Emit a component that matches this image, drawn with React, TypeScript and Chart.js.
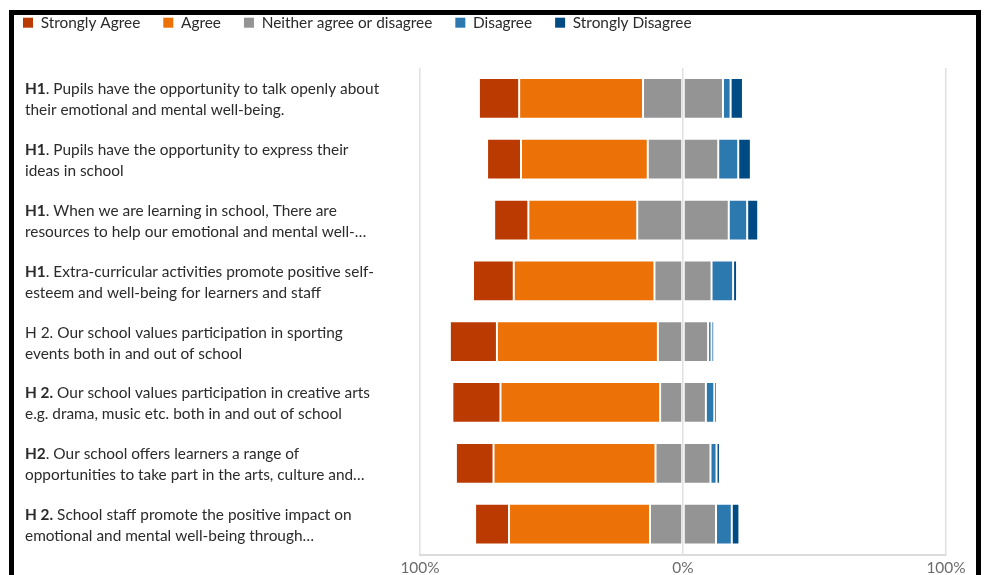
import React, { useEffect, useRef } from "react";
import { Chart, registerables } from "chart.js";

Chart.register(...registerables);

// ---- Data ----
const labelBold = ["H1", "H1", "H1", "H1", "", "H 2.", "H2", "H 2."];
const labelLine1 = [
  ". Pupils have the opportunity to talk openly about",
  ". Pupils have the opportunity to express their",
  ". When we are learning in school, There are",
  ". Extra-curricular activities promote positive self-",
  "H 2. Our school values participation in sporting",
  " Our school values participation in creative arts",
  ". Our school offers learners a range of",
  " School staff promote the positive impact on",
];
const labelLine2 = [
  "their emotional and mental well-being.",
  "ideas in school",
  "resources to help our emotional and mental well-\u2026",
  "esteem and well-being for learners and staff",
  "events both in and out of school",
  "e.g. drama, music etc. both in and out of school",
  "opportunities to take part in the arts, culture and\u2026",
  "emotional and mental well-being through\u2026",
];

const stronglyAgree = [15.3, 12.9, 13.0, 15.5, 17.9, 18.3, 14.3, 12.9];
const agree = [47.1, 48.2, 41.4, 53.5, 61.2, 60.7, 61.6, 53.6];
const neither = [30.4, 26.8, 34.8, 21.7, 19.1, 17.4, 20.9, 25.1];
const disagree = [2.9, 7.6, 7.0, 8.2, 1.3, 3.2, 2.3, 6.0];
const stronglyDisagree = [4.7, 4.8, 4.2, 1.5, 1.0, 1.0, 1.3, 2.9];

const seriesNames = [
  "Strongly Agree",
  "Agree",
  "Neither agree or disagree",
  "Disagree",
  "Strongly Disagree",
];
const seriesColors = ["#BA3A02", "#EC7106", "#949494", "#2C79B0", "#014B85"];
const xTickValues = [-100, 0, 100];

const FONT = "Lato";
const FONT_SIZE = 15.4;
const TEXT_COLOR = "#2b2b2b";

const leftLabels = {
  id: "leftLabels",
  afterDraw(chart: any) {
    const ctx = chart.ctx;
    const yScale = chart.scales.y;
    ctx.save();
    ctx.textBaseline = "middle";
    ctx.textAlign = "left";
    ctx.fillStyle = TEXT_COLOR;
    labelLine1.forEach((rest, i) => {
      const cy = yScale.getPixelForValue(i) + 1.5;
      let x = 25;
      const b = labelBold[i];
      if (b) {
        ctx.font = `bold ${FONT_SIZE}px ${FONT}`;
        ctx.fillText(b, x, cy - 10.5);
        x += ctx.measureText(b).width;
      }
      ctx.font = `${FONT_SIZE}px ${FONT}`;
      ctx.fillText(rest, x, cy - 10.5);
      ctx.fillText(labelLine2[i], 25, cy + 10.5);
    });
    ctx.restore();
  },
};

const legendSpacer = {
  id: "legendSpacer",
  beforeLayout(chart: any) {
    const lg = chart.legend;
    if (lg && !lg.__patched) {
      const f = lg.fit;
      lg.fit = function () {
        f.call(this);
        this.height += 27.6;
      };
      lg.__patched = true;
    }
  },
};

export default function App() {
  const ref = useRef<HTMLCanvasElement | null>(null);

  useEffect(() => {
    if (!ref.current) return;
    const half = neither.map((v) => v / 2);
    const mk = (label: string, data: number[], color: string) => ({
      label,
      data,
      backgroundColor: color,
      borderColor: "rgba(255,255,255,0.35)",
      borderWidth: 1,
      borderSkipped: false,
      stack: "s",
      barPercentage: 0.67,
      categoryPercentage: 1,
    });
    const chart = new Chart(ref.current, {
      type: "bar",
      data: {
        labels: labelLine1.map((t, i) => labelBold[i] + t),
        datasets: [
          mk(seriesNames[2], half.map((v) => -v), seriesColors[2]),
          mk(seriesNames[1], agree.map((v) => -v), seriesColors[1]),
          mk(seriesNames[0], stronglyAgree.map((v) => -v), seriesColors[0]),
          mk(seriesNames[2] + " ", half, seriesColors[2]),
          mk(seriesNames[3], disagree, seriesColors[3]),
          mk(seriesNames[4], stronglyDisagree, seriesColors[4]),
        ] as any,
      },
      options: {
        indexAxis: "y",
        animation: false,
        responsive: true,
        maintainAspectRatio: false,
        layout: { padding: { left: 0, right: 38, top: 0, bottom: 0 } },
        plugins: {
          tooltip: { enabled: false },
          legend: {
            display: true,
            position: "top",
            align: "start",
            onClick: () => {},
            labels: {
              boxWidth: 10,
              boxHeight: 10,
              padding: 23,
              color: TEXT_COLOR,
              font: { family: FONT, size: FONT_SIZE },
              generateLabels: () =>
                seriesNames.map((n, i) => ({
                  text: n,
                  fillStyle: seriesColors[i],
                  strokeStyle: seriesColors[i],
                  lineWidth: 0,
                  hidden: false,
                  fontColor: TEXT_COLOR,
                  datasetIndex: i,
                })),
            },
          },
        },
        scales: {
          x: {
            type: "linear",
            stacked: true,
            min: -100,
            max: 100,
            afterBuildTicks: (s: any) => {
              s.ticks = xTickValues.map((v) => ({ value: v }));
            },
            ticks: {
              color: "#6b6b6b",
              font: { family: FONT, size: FONT_SIZE },
              padding: 4,
              maxRotation: 0,
              callback: (v: any) => Math.abs(Number(v)) + "%",
            },
            grid: { color: "#e0e0e0", drawTicks: false, z: 1, lineWidth: 1.5 },
            border: { display: true, color: "#dcdcdc", width: 2, z: 1 },
          },
          y: {
            type: "category",
            stacked: true,
            ticks: { display: false },
            grid: { display: false },
            border: { display: false },
            afterFit: (s: any) => {
              s.width = 420;
            },
          },
        },
      } as any,
      plugins: [leftLabels, legendSpacer],
    });
    return () => chart.destroy();
  }, []);

  return (
    <div>
      <div
        style={{
          position: "fixed",
          left: 9,
          top: 10,
          width: 972,
          height: 700,
          border: "5px solid #000",
          boxSizing: "border-box",
          background: "#fff",
        }}
      />
      <div
        style={{
          position: "fixed",
          left: 0,
          top: -8,
          width: 984,
          height: 589,
        }}
      >
        <canvas ref={ref} />
      </div>
    </div>
  );
}
